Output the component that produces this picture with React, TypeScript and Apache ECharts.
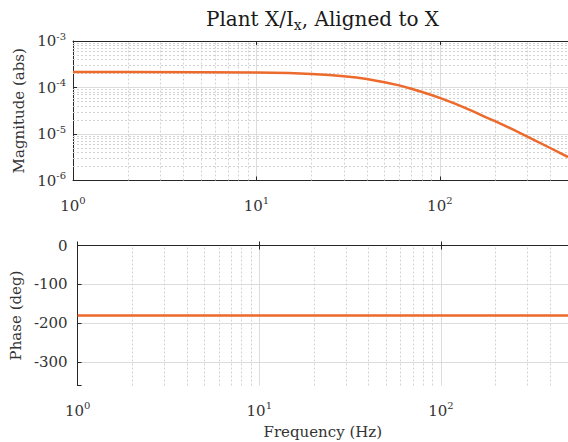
import React, { useEffect, useRef } from 'react';
import * as echarts from 'echarts';

// Frequency response samples (Hz) and measured magnitude (abs)
const freqHz = [1, 2, 5, 10, 15, 20, 25, 30, 35, 40, 45, 50, 60, 70, 80, 90, 100, 120, 150, 180, 200, 250, 300, 400, 500];
const magnitudeAbs = [
  2.15e-4, 2.15e-4, 2.14e-4, 2.1e-4, 2.04e-4, 1.96e-4, 1.86e-4, 1.75e-4, 1.64e-4, 1.52e-4,
  1.4e-4, 1.3e-4, 1.11e-4, 9.4e-5, 8.0e-5, 6.9e-5, 6.0e-5, 4.55e-5, 3.15e-5, 2.25e-5,
  1.9e-5, 1.25e-5, 8.8e-6, 5.0e-6, 3.2e-6,
];
const phaseDeg = [
  -180, -180, -180, -180, -180, -180, -180, -180, -180, -180,
  -180, -180, -180, -180, -180, -180, -180, -180, -180, -180,
  -180, -180, -180, -180, -180,
];

// Axis ranges and labelled ticks
const freqRange = [1, 500];
const magnitudeRange = [1e-6, 1e-3];
const phaseRange = [-360, 0];
const phaseTicks = [0, -100, -200, -300];

const FONT = 'DejaVu Serif';
const TEXT = '#333333';
const AXIS = '#262626';
const MAJOR_GRID = '#dcdcdc';
const MINOR_GRID = '#d2d2d2';
const LINE = '#ED6A2D';

// 2..9 within each decade of a log range
function minorDecadeValues(lo: number, hi: number): number[] {
  const out: number[] = [];
  for (let d = Math.floor(Math.log10(lo)); d <= Math.ceil(Math.log10(hi)); d++) {
    for (let k = 2; k <= 9; k++) {
      const v = k * Math.pow(10, d);
      if (v > lo && v < hi) out.push(v);
    }
  }
  return out;
}

function powerLabel(v: number): string {
  const l = Math.log10(v);
  const e = Math.round(l);
  if (Math.abs(l - e) > 1e-6) return '';
  return `{b|10}{e|${e}}`;
}

const powerRich = {
  b: { fontFamily: FONT, fontSize: 15, color: TEXT },
  e: { fontFamily: FONT, fontSize: 10, color: TEXT, padding: [0, 0, 10, 0] },
};

const GRID_LEFT = 73;
const GRID_WIDTH = 499;

export default function App() {
  const ref = useRef<HTMLDivElement>(null);

  useEffect(() => {
    if (!ref.current) return;
    const chart = echarts.init(ref.current, undefined, { renderer: 'svg' });

    const magData = freqHz.map((f, i) => [f, magnitudeAbs[i]]);
    const phaseData = freqHz.map((f, i) => [f, phaseDeg[i]]);
    const minorF = minorDecadeValues(freqRange[0], freqRange[1]);
    const minorM = minorDecadeValues(magnitudeRange[0], magnitudeRange[1]);

    // Minor grid segments, given by both end points in data space
    const vLines = (yLo: number, yHi: number) =>
      minorF.map((f) => [{ coord: [f, yLo] }, { coord: [f, yHi] }]);
    const hLines = minorM.map((m) => [{ coord: [freqRange[0], m] }, { coord: [freqRange[1], m] }]);

    const minorLine = {
      silent: true,
      symbol: 'none',
      label: { show: false },
      lineStyle: { color: MINOR_GRID, type: [2, 2], width: 1 },
      emphasis: { disabled: true },
    };

    const freqAxis = (gridIndex: number, withName: boolean) => ({
      type: 'log',
      logBase: 10,
      gridIndex,
      min: freqRange[0],
      max: freqRange[1],
      axisLine: { show: true, lineStyle: { color: AXIS, width: 1 } },
      axisTick: { show: true, inside: true, length: 4, lineStyle: { color: AXIS } },
      axisLabel: { formatter: powerLabel, rich: powerRich, margin: 15, showMaxLabel: false },
      splitLine: { show: true, showMinLine: false, showMaxLine: false, lineStyle: { color: MAJOR_GRID, width: 1 } },
      name: withName ? 'Frequency (Hz)' : '',
      nameLocation: 'middle',
      nameGap: 39,
      nameTextStyle: { fontFamily: FONT, fontSize: 15, color: TEXT },
    });

    const topMirror = (gridIndex: number) => ({
      type: 'log',
      logBase: 10,
      gridIndex,
      position: 'top',
      min: freqRange[0],
      max: freqRange[1],
      axisLine: { show: true, lineStyle: { color: AXIS, width: 1 } },
      axisTick: { show: true, inside: true, length: 4, lineStyle: { color: AXIS } },
      axisLabel: { show: false },
      splitLine: { show: false },
    });

    chart.setOption({
      animation: false,
      backgroundColor: '#ffffff',
      grid: [
        { left: GRID_LEFT, top: 41, width: GRID_WIDTH, height: 139.5 },
        { left: GRID_LEFT, top: 245.5, width: GRID_WIDTH, height: 140 },
      ],
      xAxis: [freqAxis(0, false), freqAxis(1, true), topMirror(0), topMirror(1)],
      yAxis: [
        {
          type: 'log',
          logBase: 10,
          gridIndex: 0,
          min: magnitudeRange[0],
          max: magnitudeRange[1],
          axisLine: { show: true, lineStyle: { color: AXIS, width: 1 } },
          axisTick: { show: true, inside: true, length: 4, lineStyle: { color: AXIS } },
          axisLabel: { formatter: powerLabel, rich: powerRich, margin: 7 },
          splitLine: { show: true, showMinLine: false, showMaxLine: false, lineStyle: { color: MAJOR_GRID, width: 1 } },
          name: 'Magnitude (abs)',
          nameLocation: 'middle',
          nameGap: 47,
          nameTextStyle: { fontFamily: FONT, fontSize: 15, color: TEXT },
        },
        {
          type: 'value',
          gridIndex: 1,
          min: phaseRange[0],
          max: phaseRange[1],
          splitNumber: 4,
          axisLine: { show: true, lineStyle: { color: AXIS, width: 1 } },
          axisTick: { show: true, inside: true, length: 4, lineStyle: { color: AXIS } },
          axisLabel: {
            fontFamily: FONT,
            fontSize: 15,
            color: TEXT,
            margin: 10,
            formatter: (v: number) => (phaseTicks.includes(v) ? String(v) : ''),
          },
          splitLine: { show: true, showMinLine: false, showMaxLine: false, lineStyle: { color: MAJOR_GRID, width: 1 } },
          name: 'Phase (deg)',
          nameLocation: 'middle',
          nameGap: 47,
          nameTextStyle: { fontFamily: FONT, fontSize: 15, color: TEXT },
        },
      ],
      graphic: [
        {
          type: 'text',
          x: GRID_LEFT + GRID_WIDTH / 2,
          y: 19,
          style: {
            text: '{t|Plant X/I}{s|x}{t|, Aligned to X}',
            align: 'center',
            verticalAlign: 'middle',
            rich: {
              t: { fontFamily: FONT, fontSize: 20, fill: '#1a1a1a' },
              s: { fontFamily: FONT, fontSize: 14, fill: '#1a1a1a', padding: [12, 0, 0, 0] },
            },
          },
        },
      ],
      series: [
        {
          type: 'line',
          name: 'minor-grid-mag',
          xAxisIndex: 0,
          yAxisIndex: 0,
          data: [],
          silent: true,
          z: 1,
          markLine: {
            ...minorLine,
            data: [...vLines(magnitudeRange[0], magnitudeRange[1]), ...hLines],
          },
        },
        {
          type: 'line',
          name: 'minor-grid-phase',
          xAxisIndex: 1,
          yAxisIndex: 1,
          data: [],
          silent: true,
          z: 1,
          markLine: {
            ...minorLine,
            data: vLines(phaseRange[0], phaseRange[1]),
          },
        },
        {
          type: 'line',
          name: 'Magnitude',
          xAxisIndex: 0,
          yAxisIndex: 0,
          data: magData,
          showSymbol: false,
          smooth: false,
          z: 5,
          lineStyle: { color: LINE, width: 2.5, join: 'round' },
        },
        {
          type: 'line',
          name: 'Phase',
          xAxisIndex: 1,
          yAxisIndex: 1,
          data: phaseData,
          showSymbol: false,
          z: 5,
          lineStyle: { color: LINE, width: 2.5 },
        },
      ],
    });

    return () => chart.dispose();
  }, []);

  return (
    <div
      ref={ref}
      style={{ position: 'fixed', left: 0, top: 0, width: 568, height: 442, background: '#fff' }}
    />
  );
}
